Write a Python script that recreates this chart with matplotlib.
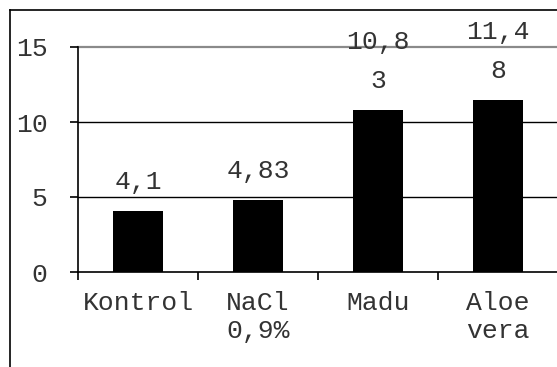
import matplotlib.pyplot as plt
from matplotlib.lines import Line2D

# Data
categories = ['Kontrol', 'NaCl\n0,9%', 'Madu', 'Aloe\nvera']
values = [4.1, 4.83, 10.83, 11.48]
yticks = [0, 5, 10, 15]

plt.rcParams['font.family'] = ['Liberation Mono', 'DejaVu Sans Mono']
plt.rcParams['font.size'] = 19


def fmt(v):
    s = str(v).replace('.', ',')
    # long labels wrap after four characters
    if len(s) > 4:
        s = s[:4] + '\n' + s[4:]
    return s


W, H = 557, 367
fig = plt.figure(figsize=(W / 100, H / 100), dpi=100)
ax = fig.add_axes([78 / W, (H - 272) / H, 480 / W, 225 / H])

x = range(len(categories))
ax.bar(x, values, width=0.42, color='black', zorder=3)

for xi, v in zip(x, values):
    ax.annotate(fmt(v), (xi, v), xytext=(0, 12), textcoords='offset points',
                ha='center', va='bottom', color='#333333', linespacing=1.8,
                zorder=4)

ax.set_xlim(-0.5, 3.5)
ax.set_ylim(0, 15)
ax.set_yticks(yticks)
ax.set_xticks(list(x))
ax.set_xticklabels(categories, color='#333333')
ax.set_xticks([-0.5, 0.5, 1.5, 2.5, 3.5], minor=True)
ax.tick_params(axis='x', which='major', length=0, pad=14)
ax.tick_params(axis='x', which='minor', length=6, width=1.2, direction='out')
ax.tick_params(axis='y', length=6, width=1.2, pad=16, labelcolor='#333333')

for yv in yticks[1:-1]:
    ax.axhline(yv, color='black', lw=1, zorder=1)
ax.axhline(15, color='#8a8a8a', lw=1.6, zorder=1, clip_on=False)

for side in ['top', 'right']:
    ax.spines[side].set_visible(False)
ax.spines['left'].set_linewidth(1.2)
ax.spines['bottom'].set_linewidth(1.2)

# outer frame
fig.add_artist(Line2D([9.5 / W, 9.5 / W], [0, 1 - 10 / H], color='black', lw=1.2))
fig.add_artist(Line2D([9.5 / W, 1], [1 - 10 / H, 1 - 10 / H], color='black', lw=1.2))

fig.savefig('out.png', dpi=100)
